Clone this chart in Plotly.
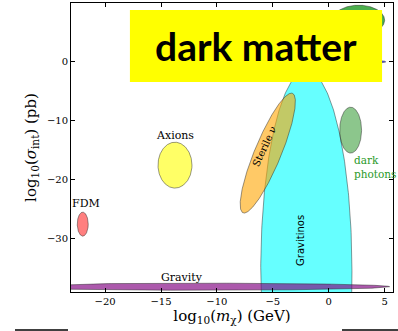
import numpy as np
import plotly.graph_objects as go

# Regions in the (log10 mass, log10 cross-section) plane, drawn as ellipses:
# centre, semi-axes (log10 units) and tilt of the first semi-axis (degrees).
region_names = ["Gravitinos", "Gravity", "Sterile ν", "Axions", "FDM",
                "dark photons", "region_g", "region_b"]
region_x = [-2.0, -11.5, -5.45, -13.75, -22.0, 1.96, 2.68, 4.2]
region_y = [-35.5, -38.2, -15.5, -17.55, -27.57, -11.6, 7.08, 0.0]
region_dx = [4.08, 16.95, 10.41, 1.52, 0.49, 0.98, 2.32, 0.9]
region_dy = [34.0, 0.6, 1.25, 3.9, 2.04, 3.9, 2.55, 0.25]
region_tilt = [0, 0, 78.1, 0, 0, 0, 0, 0]
region_fill = ["rgba(0,255,255,0.6)", "rgba(128,0,128,0.65)",
               "rgba(255,165,0,0.6)", "rgba(255,255,0,0.6)",
               "rgba(255,0,0,0.5)", "rgba(0,128,0,0.45)",
               "rgba(0,140,0,0.7)", "rgba(0,0,255,0.7)"]

# Text labels
label_text = ["Axions", "FDM", "Gravity", "Gravitinos", "Sterile ν", "dark<br>photons"]
label_x = [-13.75, -21.74, -13.1, -2.59, -5.75, 2.05]
label_y = [-12.45, -24.0, -36.7, -30.3, -14.4, -17.8]
label_angle = [0, 0, 0, -90, -65, 0]
label_font = ["DejaVu Serif", "DejaVu Serif", "DejaVu Serif", "DejaVu Sans",
              "DejaVu Serif", "DejaVu Serif"]
label_size = [11, 11, 11, 10, 10, 10.5]
label_color = ["black", "black", "black", "black", "black", "#2a9a2a"]
label_anchor = ["center", "center", "center", "center", "center", "left"]

x_ticks = [-20, -15, -10, -5, 0, 5]
y_ticks = [10, 0, -10, -20, -30]
x_range = [-23.05, 5.75]
y_range = [-39.1, 10]

fig = go.Figure()

t = np.linspace(0, 2 * np.pi, 361)
for name, cx, cy, a, b, ang, col in zip(region_names, region_x, region_y,
                                         region_dx, region_dy, region_tilt,
                                         region_fill):
    th = np.radians(ang)
    xs = cx + a * np.cos(t) * np.cos(th) - b * np.sin(t) * np.sin(th)
    ys = cy + a * np.cos(t) * np.sin(th) + b * np.sin(t) * np.cos(th)
    fig.add_trace(go.Scatter(
        x=xs, y=ys, mode="lines", fill="toself", fillcolor=col,
        line=dict(color="rgba(40,40,40,0.6)", width=0.8),
        name=name, showlegend=False, hoverinfo="name"))

for txt, lx, ly, ang, fam, sz, colr, anc in zip(label_text, label_x, label_y,
                                                 label_angle, label_font,
                                                 label_size, label_color,
                                                 label_anchor):
    fig.add_annotation(x=lx, y=ly, text=txt, textangle=ang, showarrow=False,
                       xanchor=anc, yanchor="middle", align="left",
                       font=dict(family=fam, size=sz, color=colr))

# Banner
fig.add_shape(type="rect", xref="paper", yref="paper",
              x0=0.183, x1=0.966, y0=0.7266, y1=0.9758,
              fillcolor="#ffff00", line=dict(width=0), layer="above")
fig.add_annotation(xref="paper", yref="paper", x=0.575, y=0.851,
                   text="<b>dark matter</b>", showarrow=False,
                   xanchor="center", yanchor="middle",
                   font=dict(family="Lato", size=39, color="black"))

# Rules under the chart
for x0, x1 in [(-0.174, -0.0093), (0.8416, 1.0155)]:
    fig.add_shape(type="line", xref="paper", yref="paper",
                  x0=x0, x1=x1, y0=-0.1315, y1=-0.1315,
                  line=dict(color="black", width=1.5))

axis_common = dict(showline=True, linecolor="black", linewidth=1,
                   mirror="ticks", ticks="inside", ticklen=4,
                   tickcolor="black", showgrid=False, zeroline=False,
                   automargin=False,
                   tickfont=dict(family="DejaVu Serif", size=10, color="black"))

fig.update_xaxes(range=x_range, tickvals=x_ticks, **axis_common,
                 title=dict(text="log<sub>10</sub>(<i>m</i><sub>χ</sub>) (GeV)",
                            font=dict(family="DejaVu Serif", size=15, color="black"),
                            standoff=4))
fig.update_yaxes(range=y_range, tickvals=y_ticks, **axis_common,
                 title=dict(text="log<sub>10</sub>(<i>σ</i><sub>int</sub>) (pb)",
                            font=dict(family="DejaVu Serif", size=15, color="black"),
                            standoff=6))

fig.update_layout(template="none", width=398, height=331,
                  margin=dict(l=71, r=5, t=3, b=39),
                  paper_bgcolor="white", plot_bgcolor="white",
                  showlegend=False)

fig.write_html("out.html")
